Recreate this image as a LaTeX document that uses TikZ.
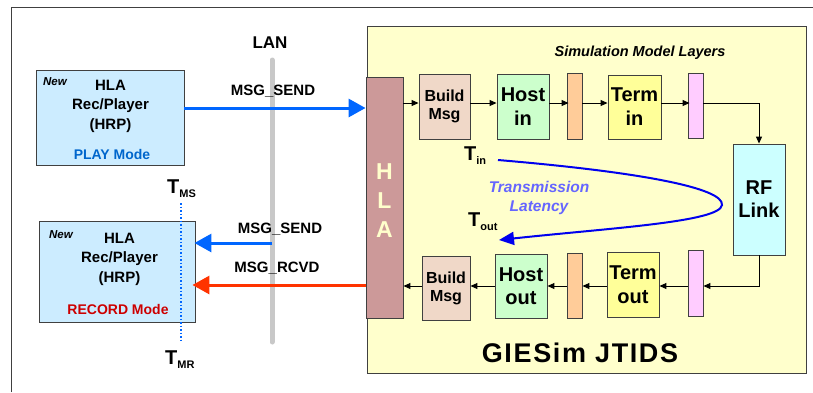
\documentclass[tikz,border=0pt]{standalone}
\usepackage{fontspec}
\setmainfont{Liberation Sans}
\usetikzlibrary{arrows.meta}
\definecolor{yellowbg}{HTML}{FFFFCC}
\definecolor{hlafill}{HTML}{CC9999}
\definecolor{hlatext}{HTML}{FFFFCC}
\definecolor{hrpfill}{HTML}{CCECFF}
\definecolor{buildfill}{HTML}{F0D8C8}
\definecolor{hostfill}{HTML}{CCFFCC}
\definecolor{orfill}{HTML}{FFCC99}
\definecolor{termfill}{HTML}{FFFF99}
\definecolor{pkfill}{HTML}{FFCCFF}
\definecolor{rffill}{HTML}{CCFFFF}
\definecolor{msgblue}{HTML}{0066FF}
\definecolor{msgred}{HTML}{FF3300}
\definecolor{curveblue}{HTML}{0000EE}
\definecolor{transtext}{HTML}{6666FF}
\definecolor{playblue}{HTML}{0066CC}
\definecolor{recred}{HTML}{CC0000}
\definecolor{langray}{HTML}{C8C8C8}
\definecolor{edge}{HTML}{404040}
\begin{document}
\begin{tikzpicture}[x=1pt,y=-1pt,
  box/.style={draw=edge, line width=0.9pt, inner sep=0pt, align=center, font=\bfseries},
  sz/.style 2 args={minimum width=#1pt, minimum height=#2pt},
  smallarr/.style={line width=1pt, -{Triangle[length=7pt,width=6pt]}},
  bigarr/.style={line width=3pt, -{Triangle[length=17pt,width=18pt]}},
  lbl/.style={font=\fontsize{15}{17}\selectfont\bfseries, inner sep=0pt},
  tl/.style={anchor=base west, inner sep=0pt, font=\fontsize{20}{20}\selectfont\bfseries},
]
\useasboundingbox (0,0) rectangle (813,392);
\draw[edge, line width=1pt] (11,392) -- (11,7) -- (813,7);

% simulation area
\node[box, fill=yellowbg, sz={439}{347}] (sim) at (586.5,199.5) {};
\node[font=\fontsize{14.5}{16}\selectfont\bfseries\itshape, inner sep=0pt] (sml) at (640,53) {Simulation Model Layers};
\node[font=\fontsize{27}{30}\selectfont\bfseries\addfontfeature{LetterSpace=6}, inner sep=0pt] (gj) at (580,353) {GIESim JTIDS};

% HLA bar
\node[box, fill=hlafill, sz={37}{241}] (hla) at (384.5,197.5) {};
\node[font=\fontsize{23}{29}\selectfont\bfseries, text=hlatext, align=center, inner sep=0pt] (hlat) at (384.5,201) {H\\L\\A};

% top row
\node[box, fill=buildfill, sz={51}{65}, font=\fontsize{16}{17.5}\selectfont\bfseries] (b1) at (444.5,106.5) {Build\\Msg};
\node[box, fill=hostfill, sz={52}{65}, font=\fontsize{20}{24}\selectfont\bfseries] (h1) at (523,106.5) {Host\\in};
\node[box, fill=orfill, sz={15}{66}] (o1) at (574.5,106) {};
\node[box, fill=termfill, sz={53}{64}, font=\fontsize{20}{24}\selectfont\bfseries] (t1) at (634.5,107) {Term\\in};
\node[box, fill=pkfill, sz={15}{65}] (p1) at (695.5,105.5) {};
\node[box, fill=rffill, sz={52}{111}, font=\fontsize{20}{23}\selectfont\bfseries] (rf) at (759,199.5) {RF\\Link};

% bottom row
\node[box, fill=buildfill, sz={48}{64}, font=\fontsize{16}{18}\selectfont\bfseries] (b2) at (446,288) {Build\\Msg};
\node[box, fill=hostfill, sz={52}{64}, font=\fontsize{20}{23}\selectfont\bfseries] (h2) at (521,286) {Host\\out};
\node[box, fill=orfill, sz={15}{65}] (o2) at (574.5,285.5) {};
\node[box, fill=termfill, sz={52}{65}, font=\fontsize{20}{24}\selectfont\bfseries] (t2) at (633,284.5) {Term\\out};
\node[box, fill=pkfill, sz={15}{66}] (p2) at (695.5,283) {};

\coordinate (r1) at (0,103);
\coordinate (r2) at (0,286);
\draw[smallarr] (hla.east |- r1) -- (b1.west |- r1);
\draw[smallarr] (b1.east |- r1) -- (h1.west |- r1);
\draw[smallarr] (h1.east |- r1) -- ([xshift=2pt]o1.west |- r1);
\draw[smallarr] (o1.east |- r1) -- (t1.west |- r1);
\draw[smallarr] (t1.east |- r1) -- ([xshift=2pt]p1.west |- r1);
\draw[smallarr] (p1.east |- r1) -| (rf.north);
\draw[smallarr] (rf.south) |- (p2.east |- r2);
\draw[smallarr] (p2.west |- r2) -- (t2.east |- r2);
\draw[smallarr] (t2.west |- r2) -- (o2.east |- r2);
\draw[smallarr] (o2.west |- r2) -- (h2.east |- r2);
\draw[smallarr] (h2.west |- r2) -- (b2.east |- r2);
\draw[smallarr] (b2.west |- r2) -- (hla.east |- r2);

% latency curve
\coordinate (cs) at (498,160);
\coordinate (ce) at (499,240);
\draw[curveblue, line width=2pt, -{Triangle[length=15pt,width=13pt]}]
  (cs) .. controls (640,172) and (724,188) .. (722,205)
       .. controls (720,222) and (610,228) .. (ce);
\node[font=\fontsize{15.5}{19}\selectfont\bfseries\itshape, text=transtext, align=center, inner sep=0pt] (lat) at (539,198) {Transmission\\Latency};
\node[tl] (tin) at (464,160) {T\raisebox{-4pt}{\fontsize{11}{11}\selectfont in}};
\node[tl] (tout) at (468,226) {T\raisebox{-4pt}{\fontsize{11}{11}\selectfont out}};

% LAN
\coordinate (lanT) at (272,60);
\coordinate (lanB) at (272,342);
\draw[langray, line width=5pt, line cap=round] (lanT) -- (lanB);
\node[font=\fontsize{17}{19}\selectfont\bfseries, inner sep=0pt] (lan) at (270,43) {LAN};

% left boxes
\node[box, fill=hrpfill, sz={148}{95}] (lt) at (110,117.5) {};
\node[font=\fontsize{11.5}{12}\selectfont\bfseries\itshape, inner sep=0pt] (new1) at (55,82) {New};
\node[font=\fontsize{15}{19.5}\selectfont\bfseries, align=center, inner sep=0pt] (lt1) at (110.5,106) {HLA\\Rec/Player\\(HRP)};
\node[font=\fontsize{14}{16}\selectfont\bfseries, text=playblue, inner sep=0pt] (play) at (112,154) {PLAY Mode};

\node[box, fill=hrpfill, sz={156}{101}] (lb) at (117,271.5) {};
\node[font=\fontsize{11.5}{12}\selectfont\bfseries\itshape, inner sep=0pt] (new2) at (61,235) {New};
\node[font=\fontsize{15}{19.5}\selectfont\bfseries, align=center, inner sep=0pt] (lb1) at (119.5,259) {HLA\\Rec/Player\\(HRP)};
\node[font=\fontsize{14}{16}\selectfont\bfseries, text=recred, inner sep=0pt] (rec) at (118,309) {RECORD Mode};

% dotted time line
\coordinate (dT) at (181,203);
\coordinate (dB) at (181,343);
\draw[msgblue, line width=1.5pt, dotted] (dT) -- (dB);
\node[tl] (tms) at (167,193) {T\raisebox{-4pt}{\fontsize{11}{11}\selectfont MS}};
\node[tl] (tmr) at (165,364) {T\raisebox{-4pt}{\fontsize{11}{11}\selectfont MR}};

% messages
\coordinate (m1) at (0,108);
\coordinate (m2) at (0,243);
\coordinate (m3) at (0,285);
\draw[msgblue, bigarr] (lt.east |- m1) -- (hla.west |- m1);
\node[lbl] (ms1) at (273,91) {MSG\_SEND};
\draw[msgblue, bigarr] (lanT |- m2) -- ([xshift=-1pt]lb.east |- m2);
\node[lbl] (ms2) at (280,229) {MSG\_SEND};
\draw[msgred, bigarr] (hla.west |- m3) -- ([xshift=-3pt]lb.east |- m3);
\node[lbl] (mr) at (277,268) {MSG\_RCVD};
\end{tikzpicture}
\end{document}
